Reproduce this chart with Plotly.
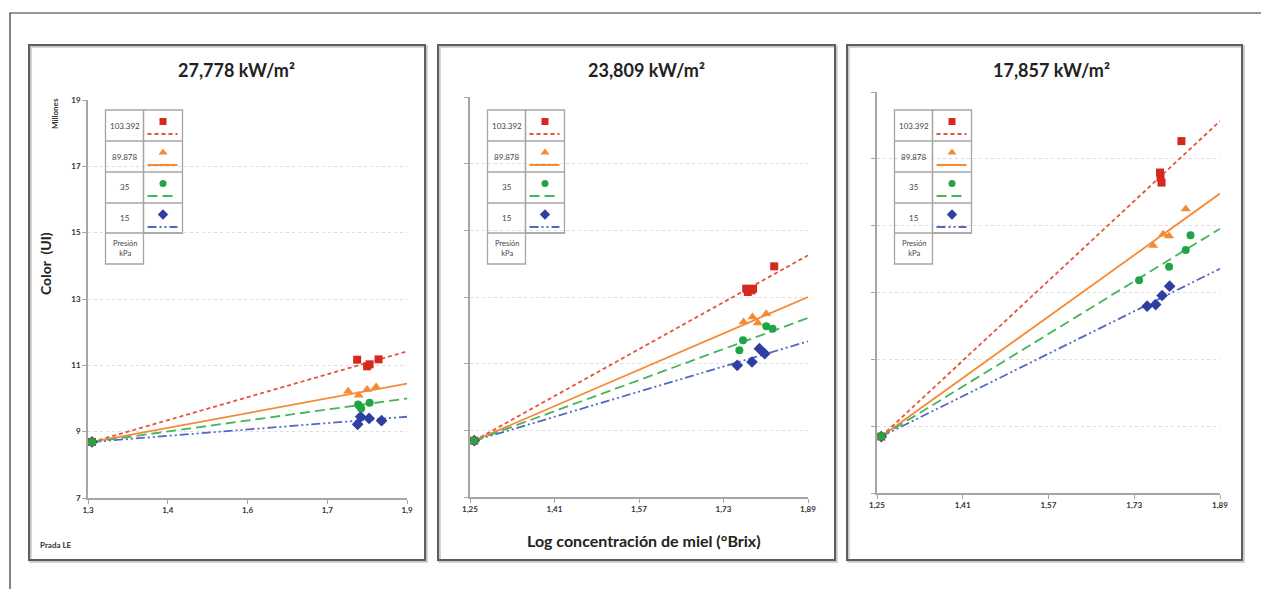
import plotly.graph_objects as go

W, H = 1261, 589

# ---------------- data ----------------
panel_titles = ["27,778 kW/m²", "23,809 kW/m²", "17,857 kW/m²"]
pressures = ["103.392", "89.878", "35", "15"]
xtick_vals = [1.25, 1.41, 1.57, 1.73, 1.89]
xtick_text_p1 = ["1,3", "1,4", "1,6", "1,7", "1,9"]
xtick_text_p23 = ["1,25", "1,41", "1,57", "1,73", "1,89"]
ytick_vals = [7, 9, 11, 13, 15, 17, 19]
ytick_text = ["7", "9", "11", "13", "15", "17", "19"]

start_x = 1.258
start_y = 8.69
trend_end_x = 1.89

# Panel 1: 27,778 kW/m2
p1_red_x = [1.790, 1.810, 1.815, 1.833]
p1_red_y = [11.17, 10.97, 11.03, 11.18]
p1_orange_x = [1.772, 1.793, 1.810, 1.828]
p1_orange_y = [10.22, 10.10, 10.27, 10.35]
p1_green_x = [1.792, 1.795, 1.798, 1.815]
p1_green_y = [9.82, 9.77, 9.70, 9.87]
p1_blue_x = [1.791, 1.797, 1.814, 1.839]
p1_blue_y = [9.22, 9.45, 9.40, 9.33]
p1_trend_end = [11.42, 10.45, 10.00, 9.45]

# Panel 2: 23,809 kW/m2
p2_red_x = [1.773, 1.776, 1.783, 1.786, 1.826]
p2_red_y = [13.25, 13.15, 13.20, 13.25, 13.92]
p2_orange_x = [1.768, 1.785, 1.795, 1.811]
p2_orange_y = [12.25, 12.40, 12.22, 12.50]
p2_green_x = [1.760, 1.767, 1.811, 1.823]
p2_green_y = [11.40, 11.70, 12.12, 12.05]
p2_blue_x = [1.756, 1.784, 1.798, 1.808]
p2_blue_y = [10.95, 11.05, 11.45, 11.30]
p2_trend_end = [14.25, 13.00, 12.37, 11.67]

# Panel 3: 17,857 kW/m2
p3_red_x = [1.778, 1.779, 1.781, 1.818]
p3_red_y = [16.59, 16.44, 16.29, 17.53]
p3_orange_x = [1.765, 1.784, 1.795, 1.826]
p3_orange_y = [14.41, 14.74, 14.69, 15.50]
p3_green_x = [1.739, 1.795, 1.826, 1.835]
p3_green_y = [13.37, 13.77, 14.27, 14.71]
p3_blue_x = [1.754, 1.770, 1.782, 1.796]
p3_blue_y = [12.59, 12.64, 12.91, 13.19]
p3_trend_end = [18.13, 15.96, 14.91, 13.71]

panels = [
    dict(series=[(p1_red_x, p1_red_y), (p1_orange_x, p1_orange_y),
                 (p1_green_x, p1_green_y), (p1_blue_x, p1_blue_y)], ends=p1_trend_end),
    dict(series=[(p2_red_x, p2_red_y), (p2_orange_x, p2_orange_y),
                 (p2_green_x, p2_green_y), (p2_blue_x, p2_blue_y)], ends=p2_trend_end),
    dict(series=[(p3_red_x, p3_red_y), (p3_orange_x, p3_orange_y),
                 (p3_green_x, p3_green_y), (p3_blue_x, p3_blue_y)], ends=p3_trend_end),
]

# ---------------- styles ----------------
styles = [
    dict(mc="#D5281F", lc="#E4553B", sym="square", ms=8, dash="4px,3px"),
    dict(mc="#F58A35", lc="#F58A35", sym="triangle-up", ms=9, dash="solid"),
    dict(mc="#1FA545", lc="#45B45C", sym="circle", ms=8, dash="10px,5px"),
    dict(mc="#2E3EA3", lc="#5466C4", sym="diamond", ms=9, dash="9px,3px,2px,3px,2px,3px"),
]
draw_order = [3, 0, 1, 2]

FONT = "Lato, 'Open Sans', sans-serif"

# pixel geometry of the three plot areas (left, right, top, bottom)
plot_px = [(88, 407, 100, 498), (470, 808, 97, 497), (877, 1220, 92, 493)]
panel_box = [(29, 425), (438, 835), (847, 1242)]
panel_top, panel_bot = 45, 560
title_cx = [236, 646, 1051]


def fx(x):
    return x / W


def fy(y):
    return 1 - y / H


fig = go.Figure()
layout = dict(
    template="none",
    width=W, height=H, autosize=False,
    margin=dict(l=0, r=0, t=0, b=0, pad=0, autoexpand=False),
    paper_bgcolor="white", plot_bgcolor="rgba(0,0,0,0)",
    showlegend=False, font=dict(family=FONT, color="#333"),
    hovermode="closest",
)
shapes, annotations = [], []

for i, p in enumerate(panels):
    n = i + 1
    xa = "x" if n == 1 else f"x{n}"
    ya = "y" if n == 1 else f"y{n}"
    l, r, t, b = plot_px[i]
    layout[f"xaxis{'' if n == 1 else n}"] = dict(
        domain=[fx(l), fx(r)], range=[1.25, 1.89], anchor=ya, automargin=False,
        tickmode="array", tickvals=xtick_vals, ticktext=xtick_text_p1 if i == 0 else xtick_text_p23,
        showline=True, linecolor="#A6A6A6", linewidth=1.5,
        ticks="outside", ticklen=4, tickwidth=1, tickcolor="#A6A6A6", showgrid=False, zeroline=False,
        tickfont=dict(size=8, weight="bold", color="#333", family=FONT), fixedrange=True,
    )
    layout[f"yaxis{'' if n == 1 else n}"] = dict(
        domain=[fy(b), fy(t)], range=[7, 19], anchor=xa, automargin=False,
        tickmode="array", tickvals=ytick_vals, ticktext=ytick_text, showticklabels=(i == 0),
        showline=True, linecolor="#A6A6A6", linewidth=1.5,
        ticks="outside", ticklen=4, tickwidth=1, tickcolor="#A6A6A6",
        showgrid=True, gridcolor="#DDDDDD", griddash="dot", gridwidth=1.2, zeroline=False,
        tickfont=dict(size=8, weight="bold", color="#333", family=FONT), fixedrange=True,
    )
    # trend lines
    for k in draw_order:
        st = styles[k]
        fig.add_trace(go.Scatter(
            x=[start_x, trend_end_x], y=[start_y, p["ends"][k]], xaxis=xa, yaxis=ya,
            mode="lines", line=dict(color=st["lc"], width=1.8, dash=st["dash"]),
            hoverinfo="skip"))
    # markers (each series includes the common start sample)
    for k in draw_order:
        st = styles[k]
        sx, sy = p["series"][k]
        fig.add_trace(go.Scatter(
            x=[start_x] + list(sx), y=[start_y] + list(sy), xaxis=xa, yaxis=ya,
            mode="markers", marker=dict(symbol=st["sym"], size=st["ms"], color=st["mc"],
                                        line=dict(width=0)),
            name=pressures[k]))

    # panel frame with light shadow
    pl, pr = panel_box[i]
    shapes.append(dict(type="rect", xref="paper", yref="paper",
                       x0=fx(pl + 1.5), x1=fx(pr + 1.5), y0=fy(panel_bot + 1.5), y1=fy(panel_top + 1.5),
                       line=dict(color="#C8C8C8", width=2.5), layer="below"))
    shapes.append(dict(type="rect", xref="paper", yref="paper",
                       x0=fx(pl), x1=fx(pr), y0=fy(panel_bot), y1=fy(panel_top),
                       line=dict(color="#5E5E5E", width=2), layer="below"))
    # title
    annotations.append(dict(xref="paper", yref="paper", x=fx(title_cx[i]), y=fy(70),
                            text=panel_titles[i], showarrow=False, xanchor="center", yanchor="middle",
                            font=dict(size=18, weight="bold", color="#222", family=FONT)))

    # legend table
    tl = l + 17.5
    td = l + 55.5
    tr = l + 94.5
    rows = [110, 141, 172, 203, 233, 264]
    gcol = "#A6A6A6"
    shapes.append(dict(type="rect", xref="paper", yref="paper", x0=fx(tl), x1=fx(td),
                       y0=fy(rows[-1]), y1=fy(rows[0]), line=dict(color=gcol, width=1.3)))
    shapes.append(dict(type="rect", xref="paper", yref="paper", x0=fx(td), x1=fx(tr),
                       y0=fy(rows[-2]), y1=fy(rows[0]), line=dict(color=gcol, width=1.3)))
    for ry in rows[1:-1]:
        shapes.append(dict(type="line", xref="paper", yref="paper", x0=fx(tl), x1=fx(tr),
                           y0=fy(ry), y1=fy(ry), line=dict(color=gcol, width=1.3)))
    for k in range(4):
        rt = rows[k]
        annotations.append(dict(xref="paper", yref="paper", x=fx((tl + td) / 2), y=fy((rt + rows[k + 1]) / 2),
                                text=pressures[k], showarrow=False, xanchor="center", yanchor="middle",
                                font=dict(size=8, color="#444", family=FONT)))
        st = styles[k]
        cx = (td + tr) / 2
        fig.add_trace(go.Scatter(x=[cx], y=[rt + 11.5], xaxis="x4", yaxis="y4", mode="markers",
                                 marker=dict(symbol=st["sym"], size=st["ms"] - 1, color=st["mc"],
                                             line=dict(width=0)),
                                 hoverinfo="skip"))
        fig.add_trace(go.Scatter(x=[td + 4, tr - 5], y=[rt + 24, rt + 24], xaxis="x4", yaxis="y4",
                                 mode="lines", line=dict(color=st["lc"], width=2, dash=st["dash"]),
                                 hoverinfo="skip"))
    annotations.append(dict(xref="paper", yref="paper", x=fx((tl + td) / 2), y=fy((rows[4] + rows[5]) / 2),
                            text="Presión<br>kPa", showarrow=False, xanchor="center", yanchor="middle",
                            font=dict(size=7.5, color="#444", family=FONT)))

# overlay axis in pixels, used for the legend tables
layout["xaxis4"] = dict(domain=[0, 1], range=[0, W], anchor="y4", visible=False,
                        fixedrange=True, automargin=False, showgrid=False, zeroline=False)
layout["yaxis4"] = dict(domain=[0, 1], range=[H, 0], anchor="x4", visible=False,
                        fixedrange=True, automargin=False, showgrid=False, zeroline=False)

# outer frame (right and bottom edges fall outside the picture)
shapes.append(dict(type="rect", xref="paper", yref="paper", x0=fx(10), x1=fx(W + 30),
                   y0=fy(H + 30), y1=fy(13), line=dict(color="#333", width=1.2), layer="below"))

# axis titles and notes
annotations.append(dict(xref="paper", yref="paper", x=fx(45), y=fy(264), text="Color  (UI)",
                        textangle=-90, showarrow=False, xanchor="center", yanchor="middle",
                        font=dict(size=14, weight="bold", color="#222", family=FONT)))
annotations.append(dict(xref="paper", yref="paper", x=fx(55), y=fy(114), text="Millones",
                        textangle=-90, showarrow=False, xanchor="center", yanchor="middle",
                        font=dict(size=8, weight="bold", color="#333", family=FONT)))
annotations.append(dict(xref="paper", yref="paper", x=fx(38), y=fy(545), text="Prada LE",
                        showarrow=False, xanchor="left", yanchor="middle",
                        font=dict(size=8, weight="bold", color="#333", family=FONT)))
annotations.append(dict(xref="paper", yref="paper", x=fx(644), y=fy(540),
                        text="Log concentración de miel (°Brix)", showarrow=False,
                        xanchor="center", yanchor="middle",
                        font=dict(size=16, weight="bold", color="#222", family=FONT)))

layout["shapes"] = shapes
layout["annotations"] = annotations
fig.update_layout(**layout)
fig.write_html("out.html")
